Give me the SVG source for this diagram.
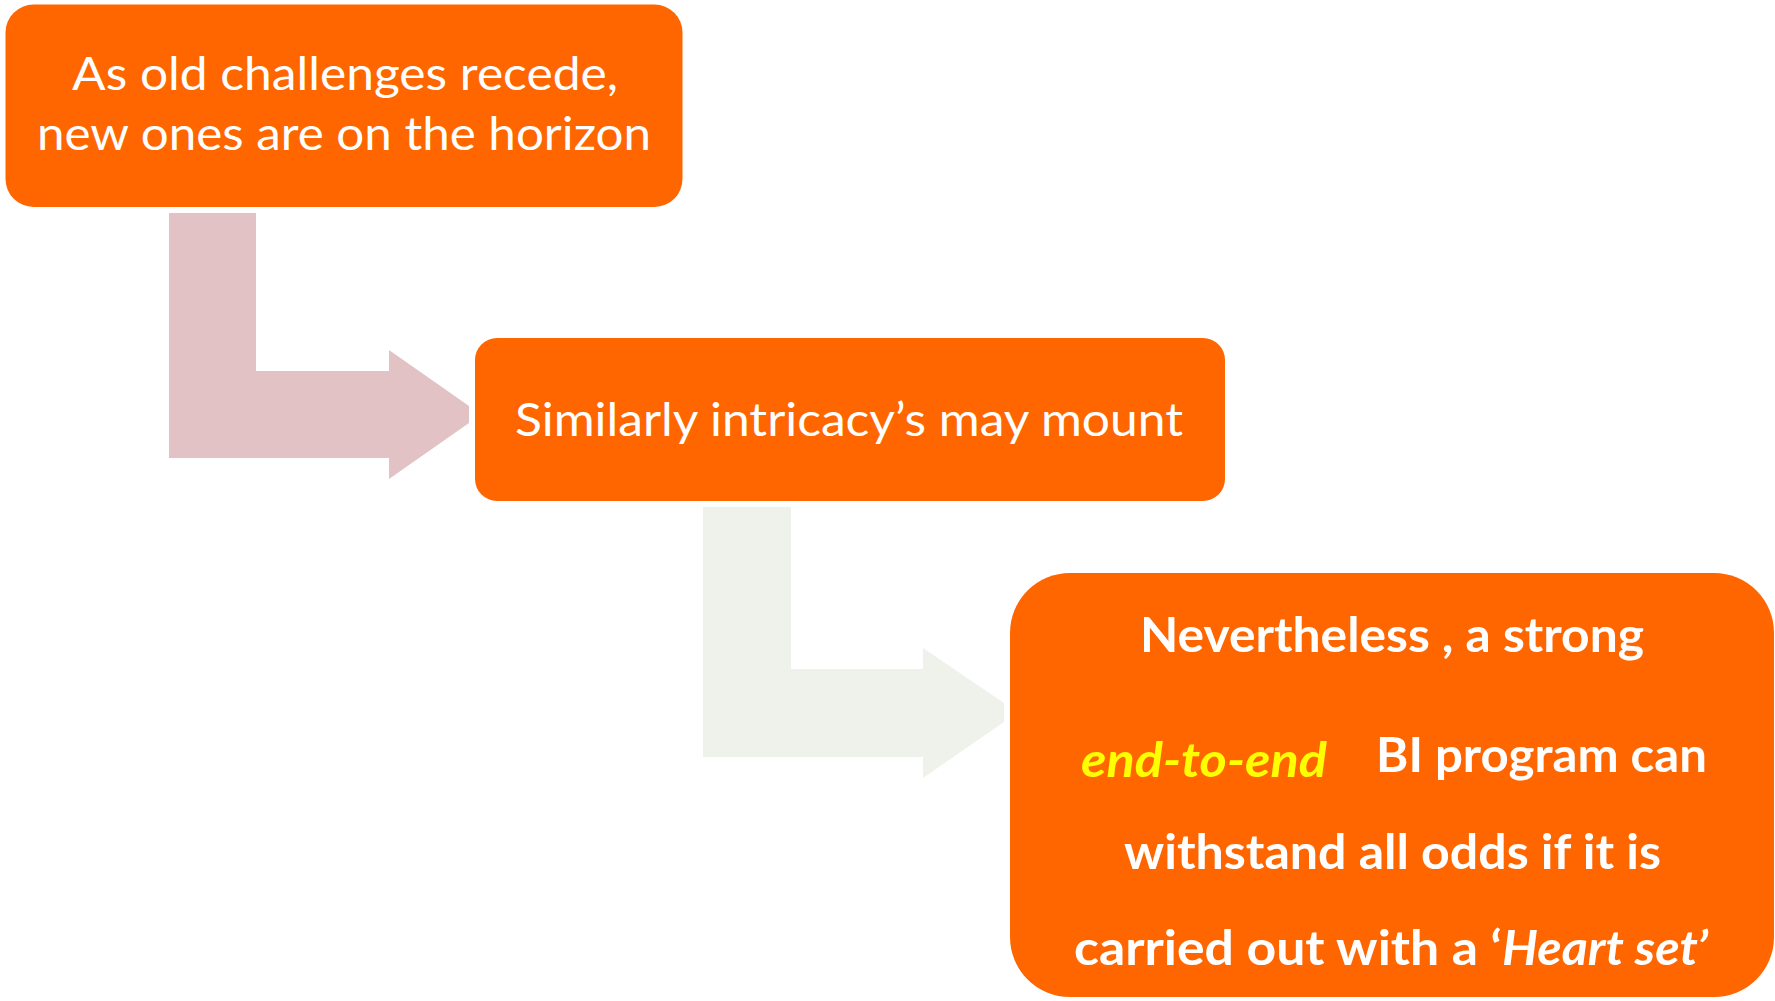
<svg xmlns="http://www.w3.org/2000/svg" width="1775" height="1001" viewBox="0 0 1775 1001">
<style>
.box{fill:#FF6600}
.t{font-family:Lato,"Open Sans","Liberation Sans",sans-serif;fill:#FFFFFF}
.reg{font-size:46px;font-weight:400}
.bold{font-size:47px;font-weight:700}
.it{font-style:italic}
.yel{fill:#FFFF00}
</style>
<rect width="1775" height="1001" fill="#FFFFFF"/>
<g id="connectors">
<path d="M169,213 H256 V371 H389 V350 L469,406 V423 L389,479 V458 H169 Z" fill="#E2C2C4"/>
<path d="M703,507 H791 V669 H923 V648 L1004,703 V722 L923,778 V757 H703 Z" fill="#EFF2EA"/>
</g>
<g id="node1">
<rect class="box" x="5.5" y="4.5" width="677" height="202.5" rx="28"/>
<text class="t reg" x="72" y="90" textLength="546" lengthAdjust="spacingAndGlyphs">As old challenges recede,</text>
<text class="t reg" x="37" y="150" textLength="614" lengthAdjust="spacingAndGlyphs">new ones are on the horizon</text>
</g>
<g id="node2">
<rect class="box" x="475" y="338" width="750" height="163" rx="22"/>
<text class="t reg" x="515" y="436" textLength="668" lengthAdjust="spacingAndGlyphs">Similarly intricacy’s may mount</text>
</g>
<g id="node3">
<rect class="box" x="1010" y="573" width="764" height="424" rx="60"/>
<text class="t bold" x="1140" y="652" textLength="504" lengthAdjust="spacingAndGlyphs">Nevertheless , a strong</text>
<text class="t bold it yel" x="1081" y="777" textLength="246" lengthAdjust="spacingAndGlyphs">end-to-end</text>
<text class="t bold" x="1376" y="772" textLength="331" lengthAdjust="spacingAndGlyphs">BI program can</text>
<text class="t bold" x="1124" y="869" textLength="537" lengthAdjust="spacingAndGlyphs">withstand all odds if it is</text>
<text class="t bold" x="1074" y="965" textLength="428" lengthAdjust="spacingAndGlyphs">carried out with a ‘</text>
<text class="t bold it" x="1502" y="965" textLength="206" lengthAdjust="spacingAndGlyphs">Heart set’</text>
</g>
</svg>
